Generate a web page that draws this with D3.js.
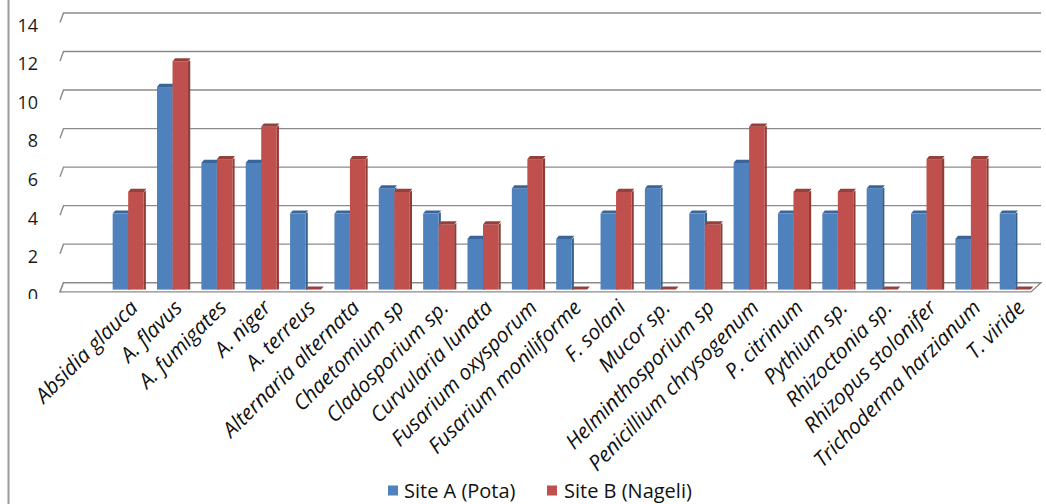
<!DOCTYPE html>
<html>
<head>
<meta charset="utf-8">
<script src="https://d3js.org/d3.v7.min.js"></script>
<style>
  html, body { margin: 0; padding: 0; background: #fff; }
  svg { display: block; }
</style>
</head>
<body>
<svg id="chart" width="1046" height="504"></svg>
<script>
// Fungal species isolated at the two sites (% frequency)
const categories = [
  "Absidia glauca", "A. flavus", "A. fumigates", "A. niger", "A. terreus",
  "Alternaria alternata", "Chaetomium sp", "Cladosporium sp.", "Curvularia lunata",
  "Fusarium oxysporum", "Fusarium moniliforme", "F. solani", "Mucor sp.",
  "Helminthosporium sp", "Penicillium chrysogenum", "P. citrinum", "Pythium sp.",
  "Rhizoctonia sp.", "Rhizopus stolonifer", "Trichoderma harzianum", "T. viride"
];
const seriesNames = ["Site A (Pota)", "Site B (Nageli)"];
const siteA = [3.95, 10.53, 6.58, 6.58, 3.95, 3.95, 5.26, 3.95, 2.63, 5.26, 2.63,
               3.95, 5.26, 3.95, 6.58, 3.95, 3.95, 5.26, 3.95, 2.63, 3.95];
const siteB = [5.08, 11.86, 6.78, 8.47, 0, 6.78, 5.08, 3.39, 3.39, 6.78, 0,
               5.08, 0, 3.39, 8.47, 5.08, 5.08, 0, 6.78, 6.78, 0];
const yTicks = [0, 2, 4, 6, 8, 10, 12, 14];

const colors = {
  "Site A (Pota)":   { front: "#4f81bd", top: "#3a659a", side: "#35608f" },
  "Site B (Nageli)": { front: "#c0504d", top: "#96403c", side: "#8f3b38" }
};

const svg = d3.select("#chart");

// pseudo-3D geometry
const depthX = 2.6, depthY = -3.2, sideW = 2.2;
const wallLeft = 63.5, wallRight = 1041;

// scales: back wall (gridlines) and front plane (bar faces)
const yBack = d3.scaleLinear().domain([0, 14]).range([282.7, 13]);
const yFront = d3.scaleLinear().domain([0, 14]).range([289.6, 20.3]);
const x = d3.scaleBand().domain(categories).range([106, 1037.4]).paddingInner(0).paddingOuter(0);
const xs = d3.scaleBand().domain(seriesNames).range([0, x.bandwidth()]).paddingInner(0).paddingOuter(0.43);

// chart frame edge on the left
svg.append("line")
  .attr("x1", 8.5).attr("x2", 8.5).attr("y1", 0).attr("y2", 504)
  .attr("stroke", "#9a9a9a").attr("stroke-width", 2);

// gridlines on the back wall with the slanted left-wall segment
const grid = svg.append("g");
yTicks.forEach(t => {
  const y = yBack(t);
  grid.append("path")
    .attr("d", `M60,${y + 9.6} L${wallLeft},${y} L${wallRight},${y}`)
    .attr("fill", "none").attr("stroke", "#8a8a8a").attr("stroke-width", 1.4);
});

// floor slab
svg.append("path")
  .attr("d", `M60,${yBack(0) + 9.2} L1031,${yBack(0) + 9.2} L${wallRight},${yBack(0)} L${wallLeft},${yBack(0)} Z`)
  .attr("fill", "#ffffff").attr("stroke", "#8a8a8a").attr("stroke-width", 1.4);

// y axis labels (the bottom label is cut off by the plot area edge)
svg.append("defs").append("clipPath").attr("id", "yclip")
  .append("rect").attr("x", 0).attr("y", 0).attr("width", 60).attr("height", 299);
const yAxis = d3.axisLeft(d3.scaleLinear().domain([0, 14]).range([yBack(0) + 12.6, yBack(14) + 12.6]))
  .tickValues(yTicks).tickSize(0).tickPadding(0);
const yWrap = svg.append("g").attr("clip-path", "url(#yclip)");
const yG = yWrap.append("g").attr("transform", "translate(38,0)").call(yAxis);
yG.select(".domain").remove();
yG.selectAll("text")
  .attr("font-family", "'Open Sans', sans-serif").attr("font-size", 18)
  .attr("fill", "#1a1a1a");

// bars
const rows = categories.map((c, i) => ({ cat: c, vals: [siteA[i], siteB[i]] }));
const barW = xs.bandwidth();
const bars = svg.append("g");
rows.forEach(r => {
  seriesNames.forEach((s, k) => {
    const v = r.vals[k];
    const x0 = x(r.cat) + xs(s);
    const x1 = x0 + barW;
    const yt = yFront(v), yb = yFront(0);
    const c = colors[s];
    const g = bars.append("g");
    if (v > 0) {
      // right side face
      g.append("path")
        .attr("d", `M${x1},${yt} L${x1 + sideW},${yt + depthY * 0.4} L${x1 + sideW},${yb} L${x1},${yb} Z`)
        .attr("fill", c.side);
      // front face
      g.append("rect")
        .attr("x", x0).attr("y", yt).attr("width", barW).attr("height", yb - yt)
        .attr("fill", c.front);
    }
    // top face
    g.append("path")
      .attr("d", `M${x0},${yt} L${x1},${yt} L${x1 + depthX},${yt + depthY} L${x0 + depthX},${yt + depthY} Z`)
      .attr("fill", c.top);
  });
});

// category labels, rotated
const xl = svg.append("g");
categories.forEach(c => {
  const cx = x(c) + x.bandwidth() / 2;
  xl.append("text")
    .attr("transform", `translate(${cx + 11},${309}) rotate(-45)`)
    .attr("text-anchor", "end")
    .attr("font-family", "'Open Sans', sans-serif")
    .attr("font-style", "italic")
    .attr("font-size", 21)
    .attr("fill", "#111")
    .text(c);
});

// legend
const legend = svg.append("g");
const legendPos = [{ sx: 388, tx: 404 }, { sx: 547, tx: 564 }];
seriesNames.forEach((s, k) => {
  legend.append("rect")
    .attr("x", legendPos[k].sx).attr("y", 485.5).attr("width", 10).attr("height", 10)
    .attr("fill", colors[s].front);
  legend.append("text")
    .attr("x", legendPos[k].tx).attr("y", 498)
    .attr("font-family", "'Open Sans', sans-serif").attr("font-size", 20)
    .attr("fill", "#111")
    .text(s);
});
</script>
</body>
</html>
